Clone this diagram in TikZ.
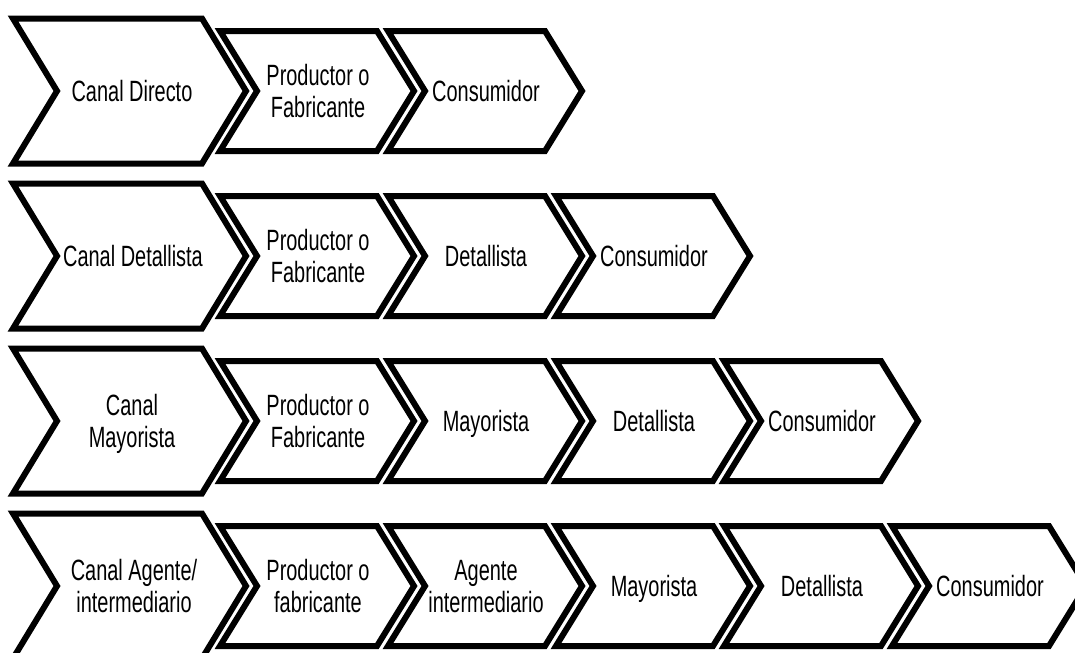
\documentclass[tikz,border=0pt]{standalone}
\usepackage{fontspec}
\setmainfont{Liberation Sans}[FakeStretch=0.68]
\newcommand{\bigchev}[1]{%
  \draw[chev] (13,{#1-72.5}) -- (202,{#1-72.5}) -- (246,#1) -- (202,{#1+72.5}) -- (13,{#1+72.5}) -- (57,#1) -- cycle;}
\newcommand{\smallchev}[2]{%
  \draw[chev] (#1,{#2-60}) -- ({#1+157},{#2-60}) -- ({#1+194},#2) -- ({#1+157},{#2+60}) -- (#1,{#2+60}) -- ({#1+37},#2) -- cycle;}
\begin{document}
\begin{tikzpicture}[x=0.75pt,y=-0.75pt,
  chev/.style={draw=black, line width=4.5pt, line join=miter, fill=white},
  lbl/.style={font=\fontsize{22}{24}\selectfont, align=center, inner sep=0pt, text depth=0pt}]
\useasboundingbox (0,0) rectangle (1075,653);
\clip (0,0) rectangle (1075,653);
% Row 1
\bigchev{91}
\smallchev{220}{91}
\smallchev{388}{91}
\node[lbl] (r1a) at (132,91) {Canal Directo};
\node[lbl] (r1b) at (318,91) {Productor o\\Fabricante};
\node[lbl] (r1c) at (486,91) {Consumidor};
% Row 2
\bigchev{256}
\smallchev{220}{256}
\smallchev{388}{256}
\smallchev{556}{256}
\node[lbl] (r2a) at (133,256) {Canal Detallista};
\node[lbl] (r2b) at (318,256) {Productor o\\Fabricante};
\node[lbl] (r2c) at (486,256) {Detallista};
\node[lbl] (r2d) at (654,256) {Consumidor};
% Row 3
\bigchev{421}
\smallchev{220}{421}
\smallchev{388}{421}
\smallchev{556}{421}
\smallchev{724}{421}
\node[lbl] (r3a) at (132,421) {Canal\\Mayorista};
\node[lbl] (r3b) at (318,421) {Productor o\\Fabricante};
\node[lbl] (r3c) at (486,421) {Mayorista};
\node[lbl] (r3d) at (654,421) {Detallista};
\node[lbl] (r3e) at (822,421) {Consumidor};
% Row 4
\bigchev{586}
\smallchev{220}{586}
\smallchev{388}{586}
\smallchev{556}{586}
\smallchev{724}{586}
\smallchev{892}{586}
\node[lbl] (r4a) at (134,586) {Canal Agente/\\intermediario};
\node[lbl] (r4b) at (318,586) {Productor o\\fabricante};
\node[lbl] (r4c) at (486,586) {Agente\\intermediario};
\node[lbl] (r4d) at (654,586) {Mayorista};
\node[lbl] (r4e) at (822,586) {Detallista};
\node[lbl] (r4f) at (990,586) {Consumidor};
\end{tikzpicture}
\end{document}
